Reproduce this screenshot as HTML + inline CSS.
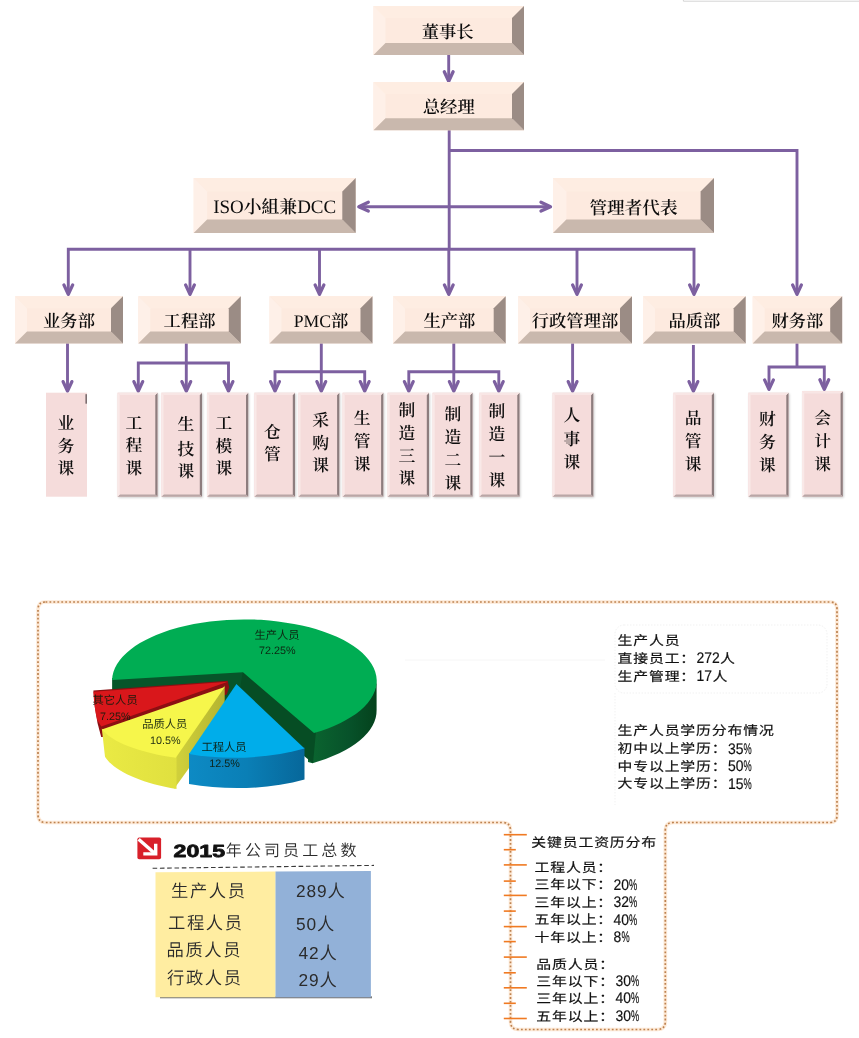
<!DOCTYPE html>
<html lang="zh-CN">
<head>
<meta charset="utf-8">
<title>组织架构图</title>
<style>
html,body{margin:0;padding:0;background:#fff;}
body{width:859px;height:1038px;overflow:hidden;}
svg{display:block;will-change:transform;text-rendering:geometricPrecision;}
.bx{font-family:"Liberation Serif","Noto Serif CJK SC",serif;font-weight:600;fill:#0d0d0d;}
.la{font-weight:400;}
.hei{font-family:"Liberation Sans","Noto Sans CJK SC",sans-serif;font-weight:400;fill:#111;stroke:#111;stroke-width:0.18px;}
.lt{font-family:"Liberation Sans","Noto Sans CJK SC",sans-serif;font-weight:350;fill:#2b2b2b;}
.blk{font-family:"Liberation Sans","Noto Sans CJK SC",sans-serif;font-weight:700;fill:#111;}
.pl{font-family:"Liberation Sans","Noto Sans CJK SC",sans-serif;font-weight:400;fill:#0d1c0d;fill-opacity:.92;}
</style>
</head>
<body>
<svg width="859" height="1038" viewBox="0 0 859 1038">
<defs>
<linearGradient id="gw" x1="0" x2="1" y1="0" y2="0"><stop offset="0" stop-color="#0b6630"/><stop offset="0.6" stop-color="#07522a"/><stop offset="1" stop-color="#04421c"/></linearGradient>
<linearGradient id="bw" x1="0" x2="1" y1="0" y2="0"><stop offset="0" stop-color="#0d8ac4"/><stop offset="0.5" stop-color="#0a7fb6"/><stop offset="1" stop-color="#07679a"/></linearGradient>
<linearGradient id="yw" x1="0" x2="1" y1="0" y2="0"><stop offset="0" stop-color="#eaea44"/><stop offset="1" stop-color="#e0e03f"/></linearGradient>
<linearGradient id="yc" x1="0" x2="1" y1="0" y2="0"><stop offset="0" stop-color="#d2d23c"/><stop offset="1" stop-color="#b4b430"/></linearGradient>
<filter id="sh" x="-20%" y="-10%" width="150%" height="125%"><feGaussianBlur stdDeviation="1.3"/><feOffset dx="1.2" dy="1.2"/><feComponentTransfer><feFuncA type="linear" slope="0.2"/></feComponentTransfer></filter>
</defs>
<rect width="859" height="1038" fill="#fff"/>
<path d="M683.4,0 V1.2 H859" fill="none" stroke="#cfcfcf" stroke-width="0.9"/>
<path d="M448.7,54 L448.7,80" fill="none" stroke="#7d60a0" stroke-width="2.9" stroke-linejoin="miter" stroke-linecap="butt"/>
<path d="M444.3,71.7 L448.7,81.2 L453.09999999999997,71.7" fill="none" stroke="#7d60a0" stroke-width="3.3" stroke-linejoin="round" stroke-linecap="round"/>
<path d="M449.2,129 L449.2,249.2" fill="none" stroke="#7d60a0" stroke-width="2.9" stroke-linejoin="miter" stroke-linecap="butt"/>
<path d="M449.2,150.5 L797,150.5 L797,294" fill="none" stroke="#7d60a0" stroke-width="2.9" stroke-linejoin="miter" stroke-linecap="butt"/>
<path d="M792.6,284.9 L797,294.4 L801.4,284.9" fill="none" stroke="#7d60a0" stroke-width="3.3" stroke-linejoin="round" stroke-linecap="round"/>
<path d="M359,206.7 L550,206.7" fill="none" stroke="#7d60a0" stroke-width="2.9" stroke-linejoin="miter" stroke-linecap="butt"/>
<path d="M368.3,202.29999999999998 L358.8,206.7 L368.3,211.1" fill="none" stroke="#7d60a0" stroke-width="3.3" stroke-linejoin="round" stroke-linecap="round"/>
<path d="M541.0,202.29999999999998 L550.5,206.7 L541.0,211.1" fill="none" stroke="#7d60a0" stroke-width="3.3" stroke-linejoin="round" stroke-linecap="round"/>
<path d="M68.3,293 L68.3,249.2 L694,249.2 L694,294" fill="none" stroke="#7d60a0" stroke-width="2.9" stroke-linejoin="miter" stroke-linecap="butt"/>
<path d="M63.9,284.9 L68.3,294.4 L72.7,284.9" fill="none" stroke="#7d60a0" stroke-width="3.3" stroke-linejoin="round" stroke-linecap="round"/>
<path d="M689.6,284.9 L694,294.4 L698.4,284.9" fill="none" stroke="#7d60a0" stroke-width="3.3" stroke-linejoin="round" stroke-linecap="round"/>
<path d="M190,249.2 L190,293.2" fill="none" stroke="#7d60a0" stroke-width="2.9" stroke-linejoin="miter" stroke-linecap="butt"/>
<path d="M185.6,284.9 L190,294.4 L194.4,284.9" fill="none" stroke="#7d60a0" stroke-width="3.3" stroke-linejoin="round" stroke-linecap="round"/>
<path d="M319.5,249.2 L319.5,293.2" fill="none" stroke="#7d60a0" stroke-width="2.9" stroke-linejoin="miter" stroke-linecap="butt"/>
<path d="M315.1,284.9 L319.5,294.4 L323.9,284.9" fill="none" stroke="#7d60a0" stroke-width="3.3" stroke-linejoin="round" stroke-linecap="round"/>
<path d="M448.8,249.2 L448.8,293.2" fill="none" stroke="#7d60a0" stroke-width="2.9" stroke-linejoin="miter" stroke-linecap="butt"/>
<path d="M444.40000000000003,284.9 L448.8,294.4 L453.2,284.9" fill="none" stroke="#7d60a0" stroke-width="3.3" stroke-linejoin="round" stroke-linecap="round"/>
<path d="M577,249.2 L577,293.2" fill="none" stroke="#7d60a0" stroke-width="2.9" stroke-linejoin="miter" stroke-linecap="butt"/>
<path d="M572.6,284.9 L577,294.4 L581.4,284.9" fill="none" stroke="#7d60a0" stroke-width="3.3" stroke-linejoin="round" stroke-linecap="round"/>
<path d="M67.5,343 L67.5,389.9" fill="none" stroke="#7d60a0" stroke-width="2.9" stroke-linejoin="miter" stroke-linecap="butt"/>
<path d="M63.1,381.59999999999997 L67.5,391.09999999999997 L71.9,381.59999999999997" fill="none" stroke="#7d60a0" stroke-width="3.3" stroke-linejoin="round" stroke-linecap="round"/>
<path d="M138.3,389.5 L138.3,363 L228.5,363 L228.5,389.5" fill="none" stroke="#7d60a0" stroke-width="2.9" stroke-linejoin="miter" stroke-linecap="butt"/>
<path d="M133.9,381.59999999999997 L138.3,391.09999999999997 L142.70000000000002,381.59999999999997" fill="none" stroke="#7d60a0" stroke-width="3.3" stroke-linejoin="round" stroke-linecap="round"/>
<path d="M224.1,381.59999999999997 L228.5,391.09999999999997 L232.9,381.59999999999997" fill="none" stroke="#7d60a0" stroke-width="3.3" stroke-linejoin="round" stroke-linecap="round"/>
<path d="M186.3,343 L186.3,389.9" fill="none" stroke="#7d60a0" stroke-width="2.9" stroke-linejoin="miter" stroke-linecap="butt"/>
<path d="M181.9,381.59999999999997 L186.3,391.09999999999997 L190.70000000000002,381.59999999999997" fill="none" stroke="#7d60a0" stroke-width="3.3" stroke-linejoin="round" stroke-linecap="round"/>
<path d="M275,389.5 L275,371.7 L364.7,371.7 L364.7,389.5" fill="none" stroke="#7d60a0" stroke-width="2.9" stroke-linejoin="miter" stroke-linecap="butt"/>
<path d="M270.6,381.59999999999997 L275,391.09999999999997 L279.4,381.59999999999997" fill="none" stroke="#7d60a0" stroke-width="3.3" stroke-linejoin="round" stroke-linecap="round"/>
<path d="M360.3,381.59999999999997 L364.7,391.09999999999997 L369.09999999999997,381.59999999999997" fill="none" stroke="#7d60a0" stroke-width="3.3" stroke-linejoin="round" stroke-linecap="round"/>
<path d="M321.3,343 L321.3,389.9" fill="none" stroke="#7d60a0" stroke-width="2.9" stroke-linejoin="miter" stroke-linecap="butt"/>
<path d="M316.90000000000003,381.59999999999997 L321.3,391.09999999999997 L325.7,381.59999999999997" fill="none" stroke="#7d60a0" stroke-width="3.3" stroke-linejoin="round" stroke-linecap="round"/>
<path d="M408.8,389.5 L408.8,371.7 L498.8,371.7 L498.8,389.5" fill="none" stroke="#7d60a0" stroke-width="2.9" stroke-linejoin="miter" stroke-linecap="butt"/>
<path d="M404.40000000000003,381.59999999999997 L408.8,391.09999999999997 L413.2,381.59999999999997" fill="none" stroke="#7d60a0" stroke-width="3.3" stroke-linejoin="round" stroke-linecap="round"/>
<path d="M494.40000000000003,381.59999999999997 L498.8,391.09999999999997 L503.2,381.59999999999997" fill="none" stroke="#7d60a0" stroke-width="3.3" stroke-linejoin="round" stroke-linecap="round"/>
<path d="M453.8,343 L453.8,389.9" fill="none" stroke="#7d60a0" stroke-width="2.9" stroke-linejoin="miter" stroke-linecap="butt"/>
<path d="M449.40000000000003,381.59999999999997 L453.8,391.09999999999997 L458.2,381.59999999999997" fill="none" stroke="#7d60a0" stroke-width="3.3" stroke-linejoin="round" stroke-linecap="round"/>
<path d="M572.6,343 L572.6,389.9" fill="none" stroke="#7d60a0" stroke-width="2.9" stroke-linejoin="miter" stroke-linecap="butt"/>
<path d="M568.2,381.59999999999997 L572.6,391.09999999999997 L577.0,381.59999999999997" fill="none" stroke="#7d60a0" stroke-width="3.3" stroke-linejoin="round" stroke-linecap="round"/>
<path d="M693.4,345 L693.4,389.9" fill="none" stroke="#7d60a0" stroke-width="2.9" stroke-linejoin="miter" stroke-linecap="butt"/>
<path d="M689.0,381.59999999999997 L693.4,391.09999999999997 L697.8,381.59999999999997" fill="none" stroke="#7d60a0" stroke-width="3.3" stroke-linejoin="round" stroke-linecap="round"/>
<path d="M797,343 L797,367" fill="none" stroke="#7d60a0" stroke-width="2.9" stroke-linejoin="miter" stroke-linecap="butt"/>
<path d="M769,388 L769,367 L824.3,367 L824.3,388" fill="none" stroke="#7d60a0" stroke-width="2.9" stroke-linejoin="miter" stroke-linecap="butt"/>
<path d="M764.6,379.9 L769,389.4 L773.4,379.9" fill="none" stroke="#7d60a0" stroke-width="3.3" stroke-linejoin="round" stroke-linecap="round"/>
<path d="M819.9,379.7 L824.3,389.2 L828.6999999999999,379.7" fill="none" stroke="#7d60a0" stroke-width="3.3" stroke-linejoin="round" stroke-linecap="round"/>
<g>
<rect x="373.5" y="6" width="150.5" height="48.9" fill="#fdeadf"/>
<polygon points="373.5,6 524.0,6 512.0,18 385.5,18" fill="#feede2"/>
<polygon points="373.5,6 385.5,18 385.5,42.9 373.5,54.9" fill="#fef0e8"/>
<polygon points="373.5,54.9 385.5,42.9 512.0,42.9 524.0,54.9" fill="#c9b8ad"/>
<polygon points="524.0,6 524.0,54.9 512.0,42.9 512.0,18" fill="#9b8c85"/>
<text x="447.7" y="32.7" class="bx" font-size="17.3" text-anchor="middle" dominant-baseline="central">董事长</text>
</g>
<g>
<rect x="373.5" y="82.1" width="150.5" height="48.2" fill="#fdeadf"/>
<polygon points="373.5,82.1 524.0,82.1 512.0,94.1 385.5,94.1" fill="#feede2"/>
<polygon points="373.5,82.1 385.5,94.1 385.5,118.30000000000001 373.5,130.3" fill="#fef0e8"/>
<polygon points="373.5,130.3 385.5,118.30000000000001 512.0,118.30000000000001 524.0,130.3" fill="#c9b8ad"/>
<polygon points="524.0,82.1 524.0,130.3 512.0,118.30000000000001 512.0,94.1" fill="#9b8c85"/>
<text x="448.75" y="107.79999999999998" class="bx" font-size="17.3" text-anchor="middle" dominant-baseline="central">总经理</text>
</g>
<g>
<rect x="193.7" y="178" width="162" height="54.9" fill="#fdeadf"/>
<polygon points="193.7,178 355.7,178 342.3,191.4 207.1,191.4" fill="#feede2"/>
<polygon points="193.7,178 207.1,191.4 207.1,219.5 193.7,232.9" fill="#fef0e8"/>
<polygon points="193.7,232.9 207.1,219.5 342.3,219.5 355.7,232.9" fill="#c9b8ad"/>
<polygon points="355.7,178 355.7,232.9 342.3,219.5 342.3,191.4" fill="#9b8c85"/>
<text x="274.7" y="207.04999999999998" class="bx" font-size="17.8" text-anchor="middle" dominant-baseline="central"><tspan class="la" font-size="19">ISO</tspan>小組兼<tspan class="la" font-size="19">DCC</tspan></text>
</g>
<g>
<rect x="553" y="178" width="161" height="54.9" fill="#fdeadf"/>
<polygon points="553,178 714,178 700.6,191.4 566.4,191.4" fill="#feede2"/>
<polygon points="553,178 566.4,191.4 566.4,219.5 553,232.9" fill="#fef0e8"/>
<polygon points="553,232.9 566.4,219.5 700.6,219.5 714,232.9" fill="#c9b8ad"/>
<polygon points="714,178 714,232.9 700.6,219.5 700.6,191.4" fill="#9b8c85"/>
<text x="633.5" y="207.79999999999998" class="bx" font-size="17.6" text-anchor="middle" dominant-baseline="central">管理者代表</text>
</g>
<g>
<rect x="15" y="296.3" width="108" height="47.1" fill="#fdeadf"/>
<polygon points="15,296.3 123,296.3 111,308.3 27,308.3" fill="#feede2"/>
<polygon points="15,296.3 27,308.3 27,331.40000000000003 15,343.40000000000003" fill="#fef0e8"/>
<polygon points="15,343.40000000000003 27,331.40000000000003 111,331.40000000000003 123,343.40000000000003" fill="#c9b8ad"/>
<polygon points="123,296.3 123,343.40000000000003 111,331.40000000000003 111,308.3" fill="#9b8c85"/>
<text x="69.0" y="321.45000000000005" class="bx" font-size="17.3" text-anchor="middle" dominant-baseline="central">业务部</text>
</g>
<g>
<rect x="138.3" y="296.3" width="102.5" height="47.1" fill="#fdeadf"/>
<polygon points="138.3,296.3 240.8,296.3 228.8,308.3 150.3,308.3" fill="#feede2"/>
<polygon points="138.3,296.3 150.3,308.3 150.3,331.40000000000003 138.3,343.40000000000003" fill="#fef0e8"/>
<polygon points="138.3,343.40000000000003 150.3,331.40000000000003 228.8,331.40000000000003 240.8,343.40000000000003" fill="#c9b8ad"/>
<polygon points="240.8,296.3 240.8,343.40000000000003 228.8,331.40000000000003 228.8,308.3" fill="#9b8c85"/>
<text x="189.55" y="321.45000000000005" class="bx" font-size="17.3" text-anchor="middle" dominant-baseline="central">工程部</text>
</g>
<g>
<rect x="269.5" y="296.3" width="103" height="47.1" fill="#fdeadf"/>
<polygon points="269.5,296.3 372.5,296.3 360.5,308.3 281.5,308.3" fill="#feede2"/>
<polygon points="269.5,296.3 281.5,308.3 281.5,331.40000000000003 269.5,343.40000000000003" fill="#fef0e8"/>
<polygon points="269.5,343.40000000000003 281.5,331.40000000000003 360.5,331.40000000000003 372.5,343.40000000000003" fill="#c9b8ad"/>
<polygon points="372.5,296.3 372.5,343.40000000000003 360.5,331.40000000000003 360.5,308.3" fill="#9b8c85"/>
<text x="321.0" y="321.45000000000005" class="bx" font-size="17.3" text-anchor="middle" dominant-baseline="central"><tspan class="la" font-size="17.7">PMC</tspan>部</text>
</g>
<g>
<rect x="393" y="296.3" width="112.7" height="47.1" fill="#fdeadf"/>
<polygon points="393,296.3 505.7,296.3 493.7,308.3 405,308.3" fill="#feede2"/>
<polygon points="393,296.3 405,308.3 405,331.40000000000003 393,343.40000000000003" fill="#fef0e8"/>
<polygon points="393,343.40000000000003 405,331.40000000000003 493.7,331.40000000000003 505.7,343.40000000000003" fill="#c9b8ad"/>
<polygon points="505.7,296.3 505.7,343.40000000000003 493.7,331.40000000000003 493.7,308.3" fill="#9b8c85"/>
<text x="449.35" y="321.45000000000005" class="bx" font-size="17.3" text-anchor="middle" dominant-baseline="central">生产部</text>
</g>
<g>
<rect x="518" y="296.3" width="114" height="47.1" fill="#fdeadf"/>
<polygon points="518,296.3 632,296.3 620,308.3 530,308.3" fill="#feede2"/>
<polygon points="518,296.3 530,308.3 530,331.40000000000003 518,343.40000000000003" fill="#fef0e8"/>
<polygon points="518,343.40000000000003 530,331.40000000000003 620,331.40000000000003 632,343.40000000000003" fill="#c9b8ad"/>
<polygon points="632,296.3 632,343.40000000000003 620,331.40000000000003 620,308.3" fill="#9b8c85"/>
<text x="575.0" y="321.45000000000005" class="bx" font-size="17.3" text-anchor="middle" dominant-baseline="central">行政管理部</text>
</g>
<g>
<rect x="643" y="296.3" width="102.7" height="47.1" fill="#fdeadf"/>
<polygon points="643,296.3 745.7,296.3 733.7,308.3 655,308.3" fill="#feede2"/>
<polygon points="643,296.3 655,308.3 655,331.40000000000003 643,343.40000000000003" fill="#fef0e8"/>
<polygon points="643,343.40000000000003 655,331.40000000000003 733.7,331.40000000000003 745.7,343.40000000000003" fill="#c9b8ad"/>
<polygon points="745.7,296.3 745.7,343.40000000000003 733.7,331.40000000000003 733.7,308.3" fill="#9b8c85"/>
<text x="694.35" y="321.45000000000005" class="bx" font-size="17.3" text-anchor="middle" dominant-baseline="central">品质部</text>
</g>
<g>
<rect x="752.7" y="296.3" width="89.5" height="47.1" fill="#fdeadf"/>
<polygon points="752.7,296.3 842.2,296.3 830.2,308.3 764.7,308.3" fill="#feede2"/>
<polygon points="752.7,296.3 764.7,308.3 764.7,331.40000000000003 752.7,343.40000000000003" fill="#fef0e8"/>
<polygon points="752.7,343.40000000000003 764.7,331.40000000000003 830.2,331.40000000000003 842.2,343.40000000000003" fill="#c9b8ad"/>
<polygon points="842.2,296.3 842.2,343.40000000000003 830.2,331.40000000000003 830.2,308.3" fill="#9b8c85"/>
<text x="797.45" y="321.45000000000005" class="bx" font-size="17.3" text-anchor="middle" dominant-baseline="central">财务部</text>
</g>
<g>
<rect x="46" y="392.7" width="41" height="104" fill="#f5dcdb"/>
<rect x="85.4" y="394.2" width="1.6" height="9.5" fill="#7c6e70"/>
<text x="66" y="423.59999999999997" class="bx" font-size="16.8" text-anchor="middle" dominant-baseline="central">业</text>
<text x="66" y="446.2" class="bx" font-size="16.8" text-anchor="middle" dominant-baseline="central">务</text>
<text x="66" y="468.09999999999997" class="bx" font-size="16.8" text-anchor="middle" dominant-baseline="central">课</text>
</g>
<g>
<rect x="117.5" y="392.7" width="40" height="104" fill="#000" filter="url(#sh)"/>
<rect x="117.5" y="392.7" width="40" height="104" fill="#f5dcdb"/>
<polygon points="157.5,392.7 157.5,496.7 155.3,494.5 155.3,394.9" fill="#8d7d7e"/>
<polygon points="117.5,496.7 119.7,494.5 155.3,494.5 157.5,496.7" fill="#b9a6a6"/>
<polygon points="117.5,392.7 157.5,392.7 155.3,394.9 119.7,394.9" fill="#f8e6e5"/>
<polygon points="117.5,392.7 119.7,394.9 119.7,494.5 117.5,496.7" fill="#f9e9e8"/>
<text x="133.8" y="423.0" class="bx" font-size="16.8" text-anchor="middle" dominant-baseline="central">工</text>
<text x="133.8" y="445.59999999999997" class="bx" font-size="16.8" text-anchor="middle" dominant-baseline="central">程</text>
<text x="133.8" y="468.09999999999997" class="bx" font-size="16.8" text-anchor="middle" dominant-baseline="central">课</text>
</g>
<g>
<rect x="161.3" y="392.7" width="40.7" height="104" fill="#000" filter="url(#sh)"/>
<rect x="161.3" y="392.7" width="40.7" height="104" fill="#f5dcdb"/>
<polygon points="202.0,392.7 202.0,496.7 199.8,494.5 199.8,394.9" fill="#8d7d7e"/>
<polygon points="161.3,496.7 163.5,494.5 199.8,494.5 202.0,496.7" fill="#b9a6a6"/>
<polygon points="161.3,392.7 202.0,392.7 199.8,394.9 163.5,394.9" fill="#f8e6e5"/>
<polygon points="161.3,392.7 163.5,394.9 163.5,494.5 161.3,496.7" fill="#f9e9e8"/>
<text x="185.8" y="424.9" class="bx" font-size="16.8" text-anchor="middle" dominant-baseline="central">生</text>
<text x="185.8" y="449.4" class="bx" font-size="16.8" text-anchor="middle" dominant-baseline="central">技</text>
<text x="185.8" y="471.9" class="bx" font-size="16.8" text-anchor="middle" dominant-baseline="central">课</text>
</g>
<g>
<rect x="207" y="392.7" width="41.2" height="104" fill="#000" filter="url(#sh)"/>
<rect x="207" y="392.7" width="41.2" height="104" fill="#f5dcdb"/>
<polygon points="248.2,392.7 248.2,496.7 246.0,494.5 246.0,394.9" fill="#8d7d7e"/>
<polygon points="207,496.7 209.2,494.5 246.0,494.5 248.2,496.7" fill="#b9a6a6"/>
<polygon points="207,392.7 248.2,392.7 246.0,394.9 209.2,394.9" fill="#f8e6e5"/>
<polygon points="207,392.7 209.2,394.9 209.2,494.5 207,496.7" fill="#f9e9e8"/>
<text x="224" y="423.4" class="bx" font-size="16.8" text-anchor="middle" dominant-baseline="central">工</text>
<text x="224" y="446.4" class="bx" font-size="16.8" text-anchor="middle" dominant-baseline="central">模</text>
<text x="224" y="468.4" class="bx" font-size="16.8" text-anchor="middle" dominant-baseline="central">课</text>
</g>
<g>
<rect x="254.3" y="392.7" width="40.7" height="104" fill="#000" filter="url(#sh)"/>
<rect x="254.3" y="392.7" width="40.7" height="104" fill="#f5dcdb"/>
<polygon points="295.0,392.7 295.0,496.7 292.8,494.5 292.8,394.9" fill="#8d7d7e"/>
<polygon points="254.3,496.7 256.5,494.5 292.8,494.5 295.0,496.7" fill="#b9a6a6"/>
<polygon points="254.3,392.7 295.0,392.7 292.8,394.9 256.5,394.9" fill="#f8e6e5"/>
<polygon points="254.3,392.7 256.5,394.9 256.5,494.5 254.3,496.7" fill="#f9e9e8"/>
<text x="272.5" y="432.4" class="bx" font-size="16.8" text-anchor="middle" dominant-baseline="central">仓</text>
<text x="272.5" y="454.4" class="bx" font-size="16.8" text-anchor="middle" dominant-baseline="central">管</text>
</g>
<g>
<rect x="298.3" y="392.7" width="41" height="104" fill="#000" filter="url(#sh)"/>
<rect x="298.3" y="392.7" width="41" height="104" fill="#f5dcdb"/>
<polygon points="339.3,392.7 339.3,496.7 337.1,494.5 337.1,394.9" fill="#8d7d7e"/>
<polygon points="298.3,496.7 300.5,494.5 337.1,494.5 339.3,496.7" fill="#b9a6a6"/>
<polygon points="298.3,392.7 339.3,392.7 337.1,394.9 300.5,394.9" fill="#f8e6e5"/>
<polygon points="298.3,392.7 300.5,394.9 300.5,494.5 298.3,496.7" fill="#f9e9e8"/>
<text x="320.7" y="420.09999999999997" class="bx" font-size="16.8" text-anchor="middle" dominant-baseline="central">采</text>
<text x="320.7" y="443.09999999999997" class="bx" font-size="16.8" text-anchor="middle" dominant-baseline="central">购</text>
<text x="320.7" y="465.9" class="bx" font-size="16.8" text-anchor="middle" dominant-baseline="central">课</text>
</g>
<g>
<rect x="342.5" y="392.7" width="40.8" height="104" fill="#000" filter="url(#sh)"/>
<rect x="342.5" y="392.7" width="40.8" height="104" fill="#f5dcdb"/>
<polygon points="383.3,392.7 383.3,496.7 381.1,494.5 381.1,394.9" fill="#8d7d7e"/>
<polygon points="342.5,496.7 344.7,494.5 381.1,494.5 383.3,496.7" fill="#b9a6a6"/>
<polygon points="342.5,392.7 383.3,392.7 381.1,394.9 344.7,394.9" fill="#f8e6e5"/>
<polygon points="342.5,392.7 344.7,394.9 344.7,494.5 342.5,496.7" fill="#f9e9e8"/>
<text x="362.2" y="418.7" class="bx" font-size="16.8" text-anchor="middle" dominant-baseline="central">生</text>
<text x="362.2" y="441.7" class="bx" font-size="16.8" text-anchor="middle" dominant-baseline="central">管</text>
<text x="362.2" y="464.4" class="bx" font-size="16.8" text-anchor="middle" dominant-baseline="central">课</text>
</g>
<g>
<rect x="387.5" y="392.7" width="41.5" height="104" fill="#000" filter="url(#sh)"/>
<rect x="387.5" y="392.7" width="41.5" height="104" fill="#f5dcdb"/>
<polygon points="429.0,392.7 429.0,496.7 426.8,494.5 426.8,394.9" fill="#8d7d7e"/>
<polygon points="387.5,496.7 389.7,494.5 426.8,494.5 429.0,496.7" fill="#b9a6a6"/>
<polygon points="387.5,392.7 429.0,392.7 426.8,394.9 389.7,394.9" fill="#f8e6e5"/>
<polygon points="387.5,392.7 389.7,394.9 389.7,494.5 387.5,496.7" fill="#f9e9e8"/>
<text x="407" y="410.09999999999997" class="bx" font-size="16.8" text-anchor="middle" dominant-baseline="central">制</text>
<text x="407" y="433.2" class="bx" font-size="16.8" text-anchor="middle" dominant-baseline="central">造</text>
<text x="407" y="456.0" class="bx" font-size="16.8" text-anchor="middle" dominant-baseline="central">三</text>
<text x="407" y="478.9" class="bx" font-size="16.8" text-anchor="middle" dominant-baseline="central">课</text>
</g>
<g>
<rect x="432.5" y="392.7" width="40" height="104" fill="#000" filter="url(#sh)"/>
<rect x="432.5" y="392.7" width="40" height="104" fill="#f5dcdb"/>
<polygon points="472.5,392.7 472.5,496.7 470.3,494.5 470.3,394.9" fill="#8d7d7e"/>
<polygon points="432.5,496.7 434.7,494.5 470.3,494.5 472.5,496.7" fill="#b9a6a6"/>
<polygon points="432.5,392.7 472.5,392.7 470.3,394.9 434.7,394.9" fill="#f8e6e5"/>
<polygon points="432.5,392.7 434.7,394.9 434.7,494.5 432.5,496.7" fill="#f9e9e8"/>
<text x="453" y="414.4" class="bx" font-size="16.8" text-anchor="middle" dominant-baseline="central">制</text>
<text x="453" y="437.4" class="bx" font-size="16.8" text-anchor="middle" dominant-baseline="central">造</text>
<text x="453" y="460.4" class="bx" font-size="16.8" text-anchor="middle" dominant-baseline="central">二</text>
<text x="453" y="483.2" class="bx" font-size="16.8" text-anchor="middle" dominant-baseline="central">课</text>
</g>
<g>
<rect x="479.3" y="392.7" width="40.2" height="104" fill="#000" filter="url(#sh)"/>
<rect x="479.3" y="392.7" width="40.2" height="104" fill="#f5dcdb"/>
<polygon points="519.5,392.7 519.5,496.7 517.3,494.5 517.3,394.9" fill="#8d7d7e"/>
<polygon points="479.3,496.7 481.5,494.5 517.3,494.5 519.5,496.7" fill="#b9a6a6"/>
<polygon points="479.3,392.7 519.5,392.7 517.3,394.9 481.5,394.9" fill="#f8e6e5"/>
<polygon points="479.3,392.7 481.5,394.9 481.5,494.5 479.3,496.7" fill="#f9e9e8"/>
<text x="497" y="411.09999999999997" class="bx" font-size="16.8" text-anchor="middle" dominant-baseline="central">制</text>
<text x="497" y="434.09999999999997" class="bx" font-size="16.8" text-anchor="middle" dominant-baseline="central">造</text>
<text x="497" y="457.2" class="bx" font-size="16.8" text-anchor="middle" dominant-baseline="central">一</text>
<text x="497" y="480.09999999999997" class="bx" font-size="16.8" text-anchor="middle" dominant-baseline="central">课</text>
</g>
<g>
<rect x="552.5" y="392.7" width="40.8" height="104" fill="#000" filter="url(#sh)"/>
<rect x="552.5" y="392.7" width="40.8" height="104" fill="#f5dcdb"/>
<polygon points="593.3,392.7 593.3,496.7 591.0999999999999,494.5 591.0999999999999,394.9" fill="#8d7d7e"/>
<polygon points="552.5,496.7 554.7,494.5 591.0999999999999,494.5 593.3,496.7" fill="#b9a6a6"/>
<polygon points="552.5,392.7 593.3,392.7 591.0999999999999,394.9 554.7,394.9" fill="#f8e6e5"/>
<polygon points="552.5,392.7 554.7,394.9 554.7,494.5 552.5,496.7" fill="#f9e9e8"/>
<text x="572" y="415.9" class="bx" font-size="16.8" text-anchor="middle" dominant-baseline="central">人</text>
<text x="572" y="439.4" class="bx" font-size="16.8" text-anchor="middle" dominant-baseline="central">事</text>
<text x="572" y="462.4" class="bx" font-size="16.8" text-anchor="middle" dominant-baseline="central">课</text>
</g>
<g>
<rect x="673.3" y="392.7" width="40.7" height="104" fill="#000" filter="url(#sh)"/>
<rect x="673.3" y="392.7" width="40.7" height="104" fill="#f5dcdb"/>
<polygon points="714.0,392.7 714.0,496.7 711.8,494.5 711.8,394.9" fill="#8d7d7e"/>
<polygon points="673.3,496.7 675.5,494.5 711.8,494.5 714.0,496.7" fill="#b9a6a6"/>
<polygon points="673.3,392.7 714.0,392.7 711.8,394.9 675.5,394.9" fill="#f8e6e5"/>
<polygon points="673.3,392.7 675.5,394.9 675.5,494.5 673.3,496.7" fill="#f9e9e8"/>
<text x="693.2" y="418.4" class="bx" font-size="16.8" text-anchor="middle" dominant-baseline="central">品</text>
<text x="693.2" y="441.4" class="bx" font-size="16.8" text-anchor="middle" dominant-baseline="central">管</text>
<text x="693.2" y="464.2" class="bx" font-size="16.8" text-anchor="middle" dominant-baseline="central">课</text>
</g>
<g>
<rect x="748.3" y="392.7" width="40.2" height="104" fill="#000" filter="url(#sh)"/>
<rect x="748.3" y="392.7" width="40.2" height="104" fill="#f5dcdb"/>
<polygon points="788.5,392.7 788.5,496.7 786.3,494.5 786.3,394.9" fill="#8d7d7e"/>
<polygon points="748.3,496.7 750.5,494.5 786.3,494.5 788.5,496.7" fill="#b9a6a6"/>
<polygon points="748.3,392.7 788.5,392.7 786.3,394.9 750.5,394.9" fill="#f8e6e5"/>
<polygon points="748.3,392.7 750.5,394.9 750.5,494.5 748.3,496.7" fill="#f9e9e8"/>
<text x="767.5" y="419.59999999999997" class="bx" font-size="16.8" text-anchor="middle" dominant-baseline="central">财</text>
<text x="767.5" y="442.9" class="bx" font-size="16.8" text-anchor="middle" dominant-baseline="central">务</text>
<text x="767.5" y="465.4" class="bx" font-size="16.8" text-anchor="middle" dominant-baseline="central">课</text>
</g>
<g>
<rect x="802" y="391.2" width="40.8" height="105.5" fill="#000" filter="url(#sh)"/>
<rect x="802" y="391.2" width="40.8" height="105.5" fill="#f5dcdb"/>
<polygon points="842.8,391.2 842.8,496.7 840.5999999999999,494.5 840.5999999999999,393.4" fill="#8d7d7e"/>
<polygon points="802,496.7 804.2,494.5 840.5999999999999,494.5 842.8,496.7" fill="#b9a6a6"/>
<polygon points="802,391.2 842.8,391.2 840.5999999999999,393.4 804.2,393.4" fill="#f8e6e5"/>
<polygon points="802,391.2 804.2,393.4 804.2,494.5 802,496.7" fill="#f9e9e8"/>
<text x="822.7" y="418.4" class="bx" font-size="16.8" text-anchor="middle" dominant-baseline="central">会</text>
<text x="822.7" y="441.4" class="bx" font-size="16.8" text-anchor="middle" dominant-baseline="central">计</text>
<text x="822.7" y="464.2" class="bx" font-size="16.8" text-anchor="middle" dominant-baseline="central">课</text>
</g>
<path d="M45.5,602 H830 Q837,602 837,609 V815.5 Q837,822.5 830,822.5 H673 Q665.3,822.5 665.3,830.5 V1021.5 Q665.3,1029.5 657.3,1029.5 H518.5 Q510.5,1029.5 510.5,1021.5 V830.5 Q510.5,822.5 502.5,822.5 H45.5 Q38,822.5 38,815 V609.5 Q38,602 45.5,602 Z" fill="none" stroke="#fbd3ae" stroke-width="3.6" opacity="0.5"/>
<path d="M45.5,602 H830 Q837,602 837,609 V815.5 Q837,822.5 830,822.5 H673 Q665.3,822.5 665.3,830.5 V1021.5 Q665.3,1029.5 657.3,1029.5 H518.5 Q510.5,1029.5 510.5,1021.5 V830.5 Q510.5,822.5 502.5,822.5 H45.5 Q38,822.5 38,815 V609.5 Q38,602 45.5,602 Z" fill="none" stroke="#bd8250" stroke-width="1.7" stroke-dasharray="1.8 2.15"/>
<rect x="615" y="625" width="212" height="68" rx="9" fill="none" stroke="#f1f1f1" stroke-width="1" stroke-dasharray="1.5 1.5"/>
<path d="M615,693 V805" fill="none" stroke="#f1f1f1" stroke-width="1" stroke-dasharray="1.5 1.5"/>
<path d="M405,660 H605" fill="none" stroke="#f6f6f6" stroke-width="1"/>
<text transform="translate(617.5,640.6) scale(1.15,1)" class="hei" font-size="12.9" letter-spacing="0.77" dominant-baseline="central">生产人员</text>
<text transform="translate(617.5,658.6) scale(1.15,1)" class="hei" font-size="12.9" letter-spacing="0.77" dominant-baseline="central">直接员工：</text>
<text transform="translate(696.6,658.9) scale(0.905,1)" class="hei" font-size="15.4" dominant-baseline="central">272</text>
<text transform="translate(720.1,658.6) scale(1.15,1)" class="hei" font-size="12.9" dominant-baseline="central">人</text>
<text transform="translate(617.5,676.1) scale(1.15,1)" class="hei" font-size="12.9" letter-spacing="0.77" dominant-baseline="central">生产管理：</text>
<text transform="translate(696.6,676.4) scale(0.905,1)" class="hei" font-size="15.4" dominant-baseline="central">17</text>
<text transform="translate(712.4,676.1) scale(1.15,1)" class="hei" font-size="12.9" dominant-baseline="central">人</text>
<text transform="translate(617.5,730.8) scale(1.15,1)" class="hei" font-size="12.9" letter-spacing="0.77" dominant-baseline="central">生产人员学历分布情况</text>
<text transform="translate(617.5,748.8) scale(1.15,1)" class="hei" font-size="12.9" letter-spacing="0.77" dominant-baseline="central">初中以上学历：</text>
<text transform="translate(728.0,749.0999999999999) scale(0.905,1)" class="hei" font-size="15.4" dominant-baseline="central">35</text>
<text transform="translate(743.5,749.0999999999999) scale(0.6,1)" class="hei" font-size="15.4" dominant-baseline="central">%</text>
<text transform="translate(617.5,766.3) scale(1.15,1)" class="hei" font-size="12.9" letter-spacing="0.77" dominant-baseline="central">中专以上学历：</text>
<text transform="translate(728.0,766.5999999999999) scale(0.905,1)" class="hei" font-size="15.4" dominant-baseline="central">50</text>
<text transform="translate(743.5,766.5999999999999) scale(0.6,1)" class="hei" font-size="15.4" dominant-baseline="central">%</text>
<text transform="translate(617.5,783.8) scale(1.15,1)" class="hei" font-size="12.9" letter-spacing="0.77" dominant-baseline="central">大专以上学历：</text>
<text transform="translate(728.0,784.0999999999999) scale(0.905,1)" class="hei" font-size="15.4" dominant-baseline="central">15</text>
<text transform="translate(743.5,784.0999999999999) scale(0.6,1)" class="hei" font-size="15.4" dominant-baseline="central">%</text>
<rect x="503.8" y="833.9000000000001" width="23" height="1.6" fill="#f07a22"/>
<rect x="503.8" y="864.1" width="23" height="1.6" fill="#f07a22"/>
<rect x="503.8" y="894.6" width="23" height="1.6" fill="#f07a22"/>
<rect x="503.8" y="925.8000000000001" width="23" height="1.6" fill="#f07a22"/>
<rect x="503.8" y="956.3000000000001" width="23" height="1.6" fill="#f07a22"/>
<rect x="503.8" y="987.0" width="23" height="1.6" fill="#f07a22"/>
<rect x="503.8" y="1017.7" width="23" height="1.6" fill="#f07a22"/>
<rect x="503.8" y="848.9000000000001" width="12" height="1.6" fill="#f07a22"/>
<rect x="503.8" y="880.3000000000001" width="12" height="1.6" fill="#f07a22"/>
<rect x="503.8" y="910.3000000000001" width="12" height="1.6" fill="#f07a22"/>
<rect x="503.8" y="940.8000000000001" width="12" height="1.6" fill="#f07a22"/>
<rect x="503.8" y="972.0" width="12" height="1.6" fill="#f07a22"/>
<rect x="503.8" y="1002.5" width="12" height="1.6" fill="#f07a22"/>
<text transform="translate(531.3,842.2) scale(1.15,1)" class="hei" font-size="12.9" letter-spacing="0.77" dominant-baseline="central">关键员工资历分布</text>
<text transform="translate(534.5,867.7) scale(1.15,1)" class="hei" font-size="12.9" letter-spacing="0.77" dominant-baseline="central">工程人员：</text>
<text transform="translate(534.5,884.7) scale(1.15,1)" class="hei" font-size="12.9" letter-spacing="0.77" dominant-baseline="central">三年以下：</text>
<text transform="translate(613.6,885.0) scale(0.905,1)" class="hei" font-size="15.4" dominant-baseline="central">20</text>
<text transform="translate(629.1,885.0) scale(0.6,1)" class="hei" font-size="15.4" dominant-baseline="central">%</text>
<text transform="translate(534.5,902.2) scale(1.15,1)" class="hei" font-size="12.9" letter-spacing="0.77" dominant-baseline="central">三年以上：</text>
<text transform="translate(613.6,902.5) scale(0.905,1)" class="hei" font-size="15.4" dominant-baseline="central">32</text>
<text transform="translate(629.1,902.5) scale(0.6,1)" class="hei" font-size="15.4" dominant-baseline="central">%</text>
<text transform="translate(534.5,919.7) scale(1.15,1)" class="hei" font-size="12.9" letter-spacing="0.77" dominant-baseline="central">五年以上：</text>
<text transform="translate(613.6,920.0) scale(0.905,1)" class="hei" font-size="15.4" dominant-baseline="central">40</text>
<text transform="translate(629.1,920.0) scale(0.6,1)" class="hei" font-size="15.4" dominant-baseline="central">%</text>
<text transform="translate(534.5,937.2) scale(1.15,1)" class="hei" font-size="12.9" letter-spacing="0.77" dominant-baseline="central">十年以上：</text>
<text transform="translate(613.6,937.5) scale(0.905,1)" class="hei" font-size="15.4" dominant-baseline="central">8</text>
<text transform="translate(621.4,937.5) scale(0.6,1)" class="hei" font-size="15.4" dominant-baseline="central">%</text>
<text transform="translate(536.3,964.7) scale(1.15,1)" class="hei" font-size="12.9" letter-spacing="0.77" dominant-baseline="central">品质人员：</text>
<text transform="translate(536.3,981.5) scale(1.15,1)" class="hei" font-size="12.9" letter-spacing="0.77" dominant-baseline="central">三年以下：</text>
<text transform="translate(615.4,981.8) scale(0.905,1)" class="hei" font-size="15.4" dominant-baseline="central">30</text>
<text transform="translate(630.9,981.8) scale(0.6,1)" class="hei" font-size="15.4" dominant-baseline="central">%</text>
<text transform="translate(536.3,998.5) scale(1.15,1)" class="hei" font-size="12.9" letter-spacing="0.77" dominant-baseline="central">三年以上：</text>
<text transform="translate(615.4,998.8) scale(0.905,1)" class="hei" font-size="15.4" dominant-baseline="central">40</text>
<text transform="translate(630.9,998.8) scale(0.6,1)" class="hei" font-size="15.4" dominant-baseline="central">%</text>
<text transform="translate(536.3,1016.5) scale(1.15,1)" class="hei" font-size="12.9" letter-spacing="0.77" dominant-baseline="central">五年以上：</text>
<text transform="translate(615.4,1016.8) scale(0.905,1)" class="hei" font-size="15.4" dominant-baseline="central">30</text>
<text transform="translate(630.9,1016.8) scale(0.6,1)" class="hei" font-size="15.4" dominant-baseline="central">%</text>
<rect x="137.4" y="837.4" width="23.7" height="21.8" rx="1.8" fill="#d8202a"/>
<path d="M138.6,839.2 L154,852.8" fill="none" stroke="#fff" stroke-width="3.4"/>
<path d="M143.3,853.9 H155.7 V843.8" fill="none" stroke="#fff" stroke-width="3.4" stroke-linejoin="miter"/>
<text transform="translate(173.6,850.9) scale(1.315,1)" font-size="17.6" dominant-baseline="central" class="blk" stroke="#111" stroke-width="0.8" stroke-linejoin="round">2015</text>
<text x="225.8" y="851.6" font-size="16" dominant-baseline="central" class="lt" letter-spacing="3.1">年公司员工总数</text>
<path d="M152.6,868.3 L374,865.4" fill="none" stroke="#3a3a3a" stroke-width="1.1" stroke-dasharray="4.6 2.7"/>
<rect x="160" y="996.3" width="212" height="2" fill="#666" opacity="0.85"/>
<polygon points="155.5,872.3 275.6,871.6 275.6,997.2 155.5,997.2" fill="#ffeda1"/>
<polygon points="275.5,871.6 370.9,871 370.9,997.2 275.5,997.2" fill="#92b1d8"/>
<text x="171" y="890.6" font-size="17.3" dominant-baseline="central" class="lt" letter-spacing="1.6">生产人员</text>
<text x="296" y="890.8" font-size="17.3" dominant-baseline="central" class="lt" letter-spacing="0.9">289人</text>
<text x="168" y="922.7" font-size="17.3" dominant-baseline="central" class="lt" letter-spacing="1.6">工程人员</text>
<text x="296" y="924" font-size="17.3" dominant-baseline="central" class="lt" letter-spacing="0.9">50人</text>
<text x="166.6" y="950" font-size="17.3" dominant-baseline="central" class="lt" letter-spacing="1.6">品质人员</text>
<text x="298.6" y="953" font-size="17.3" dominant-baseline="central" class="lt" letter-spacing="0.9">42人</text>
<text x="167" y="978.3" font-size="17.3" dominant-baseline="central" class="lt" letter-spacing="1.6">行政人员</text>
<text x="298.6" y="979.6" font-size="17.3" dominant-baseline="central" class="lt" letter-spacing="0.9">29人</text>
<path d="M376.6,679 A132.3,61.4 0 0,1 314,731 L308,729 L308,762 L312.5,763.2 A132.3,61.4 0 0,0 376.6,710 Z" fill="url(#gw)"/>
<path d="M112.1,678 L243,670.6 L245,702.6 L112.1,713 Z" fill="#07552a"/>
<path d="M243,670.6 L316,731 L313,763.2 L238,702.6 Z" fill="#064d24"/>
<path d="M243,672.3 L112.1,680 A132.3,61.4 0 1,1 314,733 Z" fill="#00ad53"/>
<path d="M93.4,690.5 Q94.3,708 97.5,723 L101.2,737 L103,737 L226.8,694.5 L229.2,687.5 L227.7,680.8 Z" fill="#8c0f12"/>
<path d="M227.7,681.7 L93.4,691.8 Q94.2,708 97.2,720 L101.3,726.6 Z" fill="#d9171b"/>
<path d="M224.7,685.5 L174,757 L174,789 L224.7,718.3 Z" fill="url(#yc)"/>
<path d="M101.8,728.5 C112,741 140,752 176.5,756.7 L176.5,789 C140,783 113,770 105,756.8 Z" fill="url(#yw)"/>
<path d="M224.7,687 L101.8,729.5 C112,742 140,753 175.8,757.7 Z" fill="#f6f64b"/>
<path d="M189,753 C225,759.5 270,757.5 304.5,747.6 L304.5,779.6 C270,789.5 225,790.5 189,784 Z" fill="url(#bw)"/>
<path d="M236.4,684 L304.5,748.6 C270,758.5 225,760.5 189,754 Z" fill="#00adea"/>
<text x="277" y="635.7" class="pl" font-size="11.3" text-anchor="middle" dominant-baseline="central">生产人员</text>
<text x="277.3" y="651.3" class="pl" font-size="10.8" text-anchor="middle" dominant-baseline="central">72.25%</text>
<text x="115.1" y="700.6" class="pl" font-size="11.3" text-anchor="middle" dominant-baseline="central">其它人员</text>
<text x="115.2" y="717.3" class="pl" font-size="10.8" text-anchor="middle" dominant-baseline="central">7.25%</text>
<text x="164.8" y="724.6" class="pl" font-size="11.3" text-anchor="middle" dominant-baseline="central">品质人员</text>
<text x="165.2" y="740.6" class="pl" font-size="10.8" text-anchor="middle" dominant-baseline="central">10.5%</text>
<text x="224" y="747.8" class="pl" font-size="11.3" text-anchor="middle" dominant-baseline="central">工程人员</text>
<text x="224.6" y="764" class="pl" font-size="10.8" text-anchor="middle" dominant-baseline="central">12.5%</text>
</svg>
</body>
</html>
